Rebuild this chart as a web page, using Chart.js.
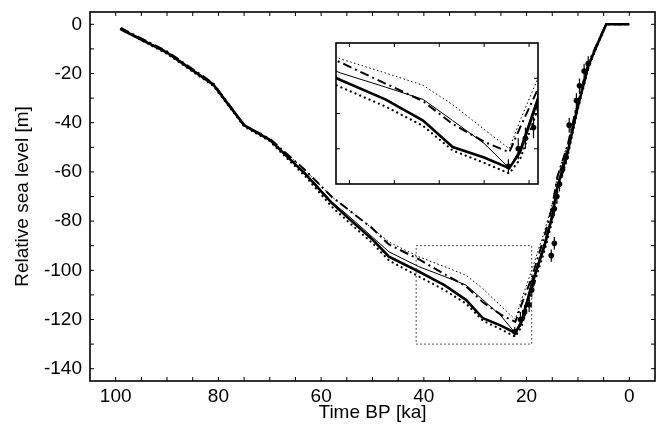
<!DOCTYPE html>
<html>
<head>
<meta charset="utf-8">
<script src="https://cdn.jsdelivr.net/npm/chart.js@4/dist/chart.umd.min.js"></script>
<style>
  html, body { margin: 0; padding: 0; background: #fff; }
  #wrap { position: relative; width: 666px; height: 432px; }
  #inset { position: absolute; left: 332px; top: 39px; }
</style>
</head>
<body>
<div id="wrap">
  <canvas id="main" width="666" height="432"></canvas>
  <canvas id="inset" width="210" height="149"></canvas>
</div>
<script>
// ages (ka BP) shared by the model curves
const ages      = [99, 90, 81, 75, 70, 63, 58, 54.6, 50, 46.8, 41, 36, 31.8, 28.5, 25, 22.2, 21, 19, 16.5, 15, 14, 12, 10.2, 8, 6.2, 4.5, 0];
// relative sea level (m) of each model curve
const thickSL   = [-2, -11.5, -24.5, -41, -47, -61, -72.5, -79, -87.5, -94.5, -100.5, -106, -112, -119.5, -122.5, -125.5, -121, -106, -90, -78, -66, -52, -35, -17, -8, 0, 0];
const thinSL    = [-2, -11.5, -24.5, -41, -47, -60.5, -72, -78, -86.5, -92.5, -98.5, -102.5, -106, -112, -118.5, -125.5, -120, -105, -88.5, -77, -65.5, -51.5, -34.5, -17, -8, 0, 0];
const dashDotSL = [-1.5, -11, -24, -41, -46.5, -59.5, -70, -75.5, -83, -89.5, -95.5, -101.5, -106.5, -113, -118, -121, -114, -103, -86, -74, -62, -49, -33, -16, -7.5, 0, 0];
const fineDotSL = [-1.5, -11, -24, -41, -46.5, -59.5, -70, -75.5, -83, -88.5, -94.5, -98.5, -102, -107.5, -114.5, -120, -112, -100, -84, -73, -61.5, -48.5, -32.5, -16, -7.5, 0, 0];
const lowDotSL  = [-2, -12, -25, -41.5, -47.5, -62, -74, -80.5, -89, -96, -102.5, -108, -113.5, -120.5, -124, -127, -123, -108.5, -92, -80, -68, -53.5, -36, -18, -8.5, 0, 0];

// observed sea-level data with error
const obsAge = [22.3, 21.2, 20.4, 19.5, 19.0, 18.8, 15.2, 14.6, 14.6, 14.1, 13.6, 13.0, 12.3, 11.7, 10.3, 9.7, 8.8, 8.0];
const obsSL  = [-125, -120, -117, -114, -108, -105, -94, -89, -75, -70, -65, -59, -54, -41, -31, -25, -19, -16];
const obsErr = [2, 3, 3, 3, 3, 3, 2.5, 2.5, 3, 3, 3, 3, 3, 3, 3, 3, 3, 3];

// tick marks (labelled every 20)
const xTicks = [100, 95, 90, 85, 80, 75, 70, 65, 60, 55, 50, 45, 40, 35, 30, 25, 20, 15, 10, 5, 0];
const yTicks = [0, -10, -20, -30, -40, -50, -60, -70, -80, -90, -100, -110, -120, -130, -140];
const insetXTicks = [40, 35, 30, 25, 20];
const insetYTicks = [-90, -100, -110, -120, -130];

// zoomed window shown in the inset
const zoomAge = [19, 41.5];
const zoomSL  = [-130, -90];

const font = "'Liberation Sans', Arial, Helvetica, sans-serif";

function pts(vals) {
  return ages.map((a, i) => ({x: a, y: vals[i]}));
}

function makeDatasets() {
  return [
    {data: pts(fineDotSL), borderWidth: 1, borderDash: [1.5, 2.5]},
    {data: pts(lowDotSL), borderWidth: 2.2, borderDash: [0.1, 5], borderCapStyle: 'round'},
    {data: pts(dashDotSL), borderWidth: 2, borderDash: [9, 4, 2, 4]},
    {data: pts(thinSL), borderWidth: 1},
    {data: pts(thickSL), borderWidth: 2.6},
    {data: obsAge.map((a, i) => ({x: a, y: obsSL[i]})), showLine: false,
     pointRadius: 2.8, pointBackgroundColor: '#000', pointBorderWidth: 0}
  ].map(d => Object.assign({showLine: true, pointRadius: 0, borderColor: '#000',
                            fill: false, tension: 0}, d));
}

function setTicks(vals) {
  return s => { s.ticks = vals.map(v => ({value: v})); };
}

// box, inward tick marks, error bars, zoom rectangle
const decor = {
  id: 'decor',
  afterDatasetsDraw(chart, args, opts) {
    const {ctx, chartArea: a, scales: {x, y}} = chart;
    ctx.save();
    ctx.beginPath();
    ctx.rect(a.left, a.top, a.right - a.left, a.bottom - a.top);
    ctx.clip();
    ctx.strokeStyle = '#000';
    ctx.lineWidth = 1.2;
    ctx.beginPath();
    obsAge.forEach((t, i) => {
      const px = x.getPixelForValue(t);
      ctx.moveTo(px, y.getPixelForValue(obsSL[i] + obsErr[i]));
      ctx.lineTo(px, y.getPixelForValue(obsSL[i] - obsErr[i]));
    });
    ctx.stroke();
    ctx.restore();

    ctx.save();
    if (opts.zoomBox) {
      const x0 = x.getPixelForValue(zoomAge[0]), x1 = x.getPixelForValue(zoomAge[1]);
      const y0 = y.getPixelForValue(zoomSL[0]), y1 = y.getPixelForValue(zoomSL[1]);
      ctx.strokeStyle = '#222';
      ctx.lineWidth = 1;
      ctx.setLineDash([1.5, 2.5]);
      ctx.strokeRect(Math.min(x0, x1), y1, Math.abs(x1 - x0), y0 - y1);
      ctx.setLineDash([]);
    }
    ctx.strokeStyle = '#000';
    ctx.lineWidth = opts.frame;
    ctx.strokeRect(a.left, a.top, a.right - a.left, a.bottom - a.top);
    ctx.lineWidth = 1;
    ctx.beginPath();
    x.ticks.forEach(t => {
      const px = x.getPixelForValue(t.value);
      if (px <= a.left + 2 || px >= a.right - 2) return;
      ctx.moveTo(px, a.bottom); ctx.lineTo(px, a.bottom - opts.len);
      ctx.moveTo(px, a.top); ctx.lineTo(px, a.top + opts.len);
    });
    y.ticks.forEach(t => {
      const py = y.getPixelForValue(t.value);
      if (py <= a.top + 2 || py >= a.bottom - 2) return;
      ctx.moveTo(a.left, py); ctx.lineTo(a.left + opts.len, py);
      ctx.moveTo(a.right, py); ctx.lineTo(a.right - opts.len, py);
    });
    ctx.stroke();
    ctx.restore();
  }
};

Chart.defaults.font.family = font;
Chart.defaults.color = '#000';

new Chart(document.getElementById('main'), {
  type: 'scatter',
  data: {datasets: makeDatasets()},
  options: {
    responsive: false,
    animation: false,
    layout: {padding: {top: 12, right: 11, left: 0, bottom: 0}},
    plugins: {legend: {display: false}, tooltip: {enabled: false},
              decor: {frame: 1.6, len: 4, zoomBox: true}},
    scales: {
      x: {
        type: 'linear', reverse: true, min: -5, max: 105,
        grid: {display: false, drawTicks: false}, border: {display: false},
        afterBuildTicks: setTicks(xTicks),
        ticks: {autoSkip: false, maxRotation: 0, padding: 4, font: {size: 19},
                callback: v => (v % 20 === 0 ? v : '')},
        title: {display: true, text: 'Time BP [ka]', font: {size: 19},
                padding: {top: 0, bottom: 8}},
        afterFit: s => { s.height = 51; s.paddingLeft = 0; s.paddingRight = 0; }
      },
      y: {
        type: 'linear', min: -145, max: 5,
        grid: {display: false, drawTicks: false}, border: {display: false},
        afterBuildTicks: setTicks(yTicks),
        ticks: {autoSkip: false, padding: 8, font: {size: 19},
                callback: v => (v % 20 === 0 ? v : '')},
        title: {display: true, text: 'Relative sea level [m]', font: {size: 19},
                padding: {top: 11, bottom: 0}},
        afterFit: s => { s.width = 90; s.paddingTop = 0; s.paddingBottom = 0; }
      }
    }
  },
  plugins: [decor]
});

new Chart(document.getElementById('inset'), {
  type: 'scatter',
  data: {datasets: makeDatasets()},
  options: {
    responsive: false,
    animation: false,
    layout: {padding: 1},
    plugins: {legend: {display: false}, tooltip: {enabled: false},
              decor: {frame: 1.6, len: 4, zoomBox: false}},
    scales: {
      x: {
        type: 'linear', reverse: true, min: zoomAge[0], max: zoomAge[1],
        grid: {display: false, drawTicks: false}, border: {display: false},
        afterBuildTicks: setTicks(insetXTicks),
        ticks: {display: false},
        afterFit: s => { s.height = 0; }
      },
      y: {
        type: 'linear', min: zoomSL[0], max: zoomSL[1],
        grid: {display: false, drawTicks: false}, border: {display: false},
        afterBuildTicks: setTicks(insetYTicks),
        ticks: {display: false},
        afterFit: s => { s.width = 0; }
      }
    }
  },
  plugins: [decor]
});
</script>
</body>
</html>
